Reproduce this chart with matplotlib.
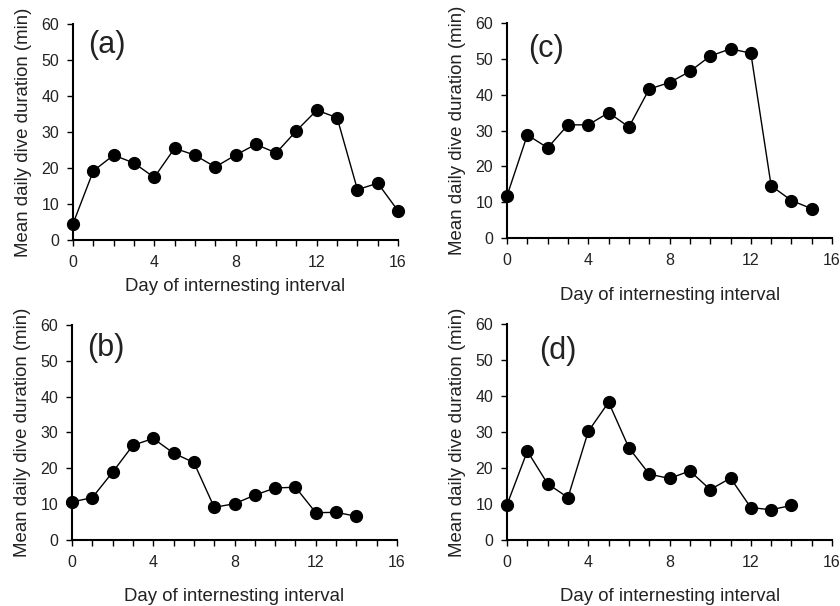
import numpy as np
import matplotlib
matplotlib.use("Agg")
import matplotlib.pyplot as plt
from matplotlib.ticker import MultipleLocator

plt.rcParams['font.family'] = ['Liberation Sans', 'DejaVu Sans']

# mean daily dive duration (min) per day of internesting interval
days_a = list(range(17))
dur_a = [4.5, 19.2, 23.6, 21.4, 17.4, 25.5, 23.6, 20.3, 23.6, 26.6, 24.2, 30.4, 36.1, 34.0, 14.0, 15.8, 8.1]

days_b = list(range(15))
dur_b = [10.6, 11.8, 18.9, 26.4, 28.3, 24.2, 21.6, 9.1, 10.1, 12.5, 14.5, 14.7, 7.6, 7.7, 6.6]

days_c = list(range(16))
dur_c = [11.8, 28.8, 25.2, 31.6, 31.6, 35.0, 31.0, 41.6, 43.4, 46.5, 50.8, 52.8, 51.6, 14.6, 10.5, 8.2]

days_d = list(range(15))
dur_d = [9.8, 24.7, 15.6, 11.8, 30.2, 38.3, 25.6, 18.3, 17.1, 19.2, 14.0, 17.2, 9.0, 8.4, 9.6]

x_ticks = [0, 4, 8, 12, 16]
y_ticks = [0, 10, 20, 30, 40, 50, 60]

fig = plt.figure(figsize=(8.4, 6.06), dpi=100)

# (rect, data, letter, letter position, xlabel top position)
panels = [
    ([0.0869, 0.604, 0.387, 0.356], days_a, dur_a, "(a)", (0.105, 0.905), -0.176),
    ([0.6036, 0.607, 0.387, 0.355], days_c, dur_c, "(c)", (0.12, 0.88), -0.228),
    ([0.0857, 0.109, 0.387, 0.355], days_b, dur_b, "(b)", (0.105, 0.89), -0.223),
    ([0.6036, 0.109, 0.387, 0.356], days_d, dur_d, "(d)", (0.155, 0.875), -0.223),
]

txt = '#222222'
for rect, x, y, letter, lpos, xl_y in panels:
    ax = fig.add_axes(rect)
    ax.plot(x, y, '-o', color='black', lw=1.0, markersize=8.5, clip_on=False, zorder=3)
    ax.set_xlim(0, 16)
    ax.set_ylim(0, 60)
    ax.set_xticks(x_ticks)
    ax.set_yticks(y_ticks)
    ax.xaxis.set_minor_locator(MultipleLocator(1))
    for s in ['top', 'right']:
        ax.spines[s].set_visible(False)
    for s in ['left', 'bottom']:
        ax.spines[s].set_linewidth(1.5)
    ax.tick_params(which='both', direction='out', length=4, width=1, color='black',
                   labelsize=11.5, labelcolor=txt)
    ax.tick_params(axis='x', pad=7)
    ax.tick_params(axis='y', pad=6)
    ax.set_xlabel('Day of internesting interval', fontsize=13.4, color=txt)
    ax.set_ylabel('Mean daily dive duration (min)', fontsize=13.4, color=txt)
    ax.xaxis.set_label_coords(0.5, xl_y)
    ax.yaxis.set_label_coords(-0.126, 0.5)
    ax.text(lpos[0], lpos[1], letter, transform=ax.transAxes, fontsize=22,
            ha='center', va='center', color=txt)

fig.savefig('out.png', dpi=100)
